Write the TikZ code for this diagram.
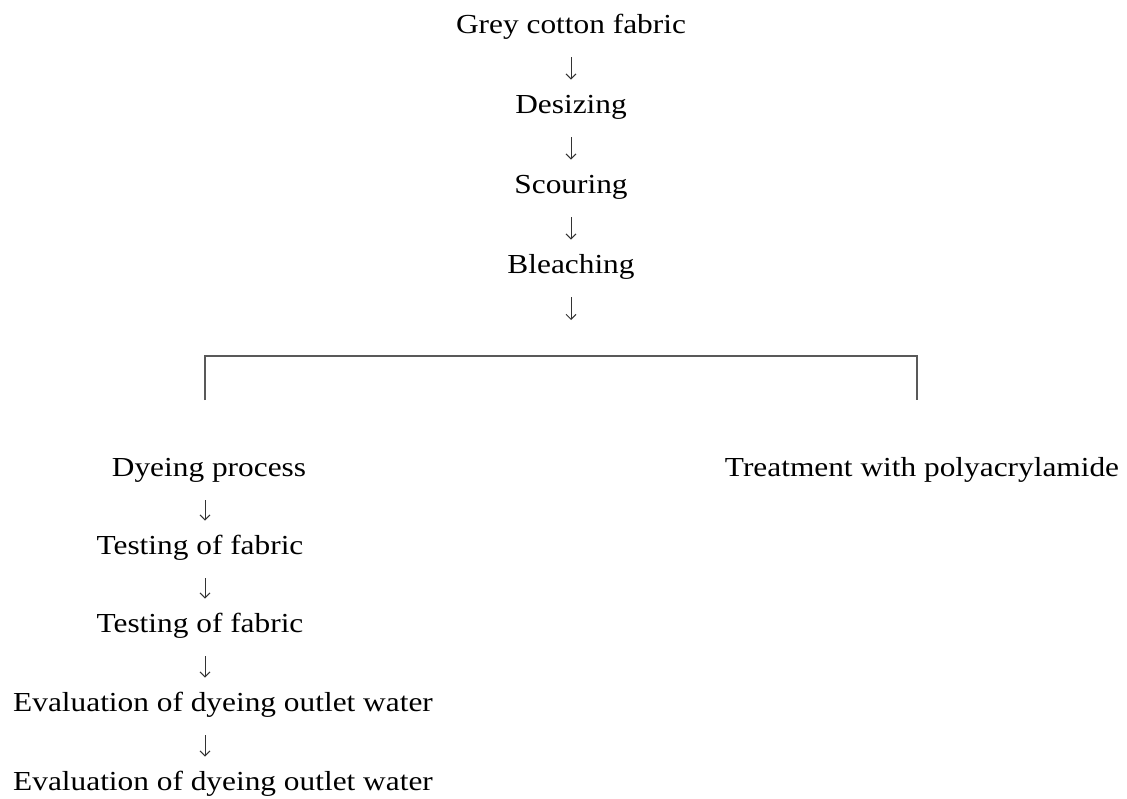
\documentclass[tikz,border=0pt]{standalone}
\usepackage{fontspec}
\setmainfont[FakeStretch=1.14]{Liberation Serif}
\usetikzlibrary{arrows.meta}

\begin{document}
\begin{tikzpicture}[x=0.5pt,y=-0.5pt,
	stage/.style={inner sep=0pt,text height=9pt,text depth=3pt,anchor=base,font=\fontsize{13.75}{16}\selectfont},
	flow/.style={-{Straight Barb[length=2.5pt,width=5pt]},line width=0.5pt,color=black!80,shorten <=9pt,shorten >=7.5pt},
	bracket/.style={line width=1pt,color=black!65}]
			\useasboundingbox (0,0) rectangle (1127,798);

			\node[stage] (grey)   at (571,33)  {Grey cotton fabric};
			\node[stage] (desize) at (571,113) {Desizing};
			\node[stage] (scour)  at (571,193) {Scouring};
			\node[stage] (bleach) at (571,273) {Bleaching};

			\draw[flow] (grey)   -- (desize);
			\draw[flow] (desize) -- (scour);
			\draw[flow] (scour)  -- (bleach);

			\coordinate (split) at (571,356);
			\coordinate (ldrop) at (205,400);
			\coordinate (rdrop) at (917,400);
			\draw[flow,shorten >=18pt] (bleach) -- (split);
			\draw[bracket] (ldrop) |- (rdrop |- split) -- (rdrop);

			\node[stage] (dye)   at (209,476) {Dyeing process};
			\node[stage] (treat) at (922,476) {Treatment with polyacrylamide};
			\node[stage] (test1) at (200,554) {Testing of fabric};
			\node[stage] (test2) at (200,632) {Testing of fabric};
			\node[stage] (eval1) at (223,711) {Evaluation of dyeing outlet water};
			\node[stage] (eval2) at (223,790) {Evaluation of dyeing outlet water};

			\coordinate (lane) at (205,476);
			\draw[flow] (dye.south -| lane)   -- (test1.north -| lane);
			\draw[flow] (test1.south -| lane) -- (test2.north -| lane);
			\draw[flow] (test2.south -| lane) -- (eval1.north -| lane);
			\draw[flow] (eval1.south -| lane) -- (eval2.north -| lane);
\end{tikzpicture}
\end{document}
